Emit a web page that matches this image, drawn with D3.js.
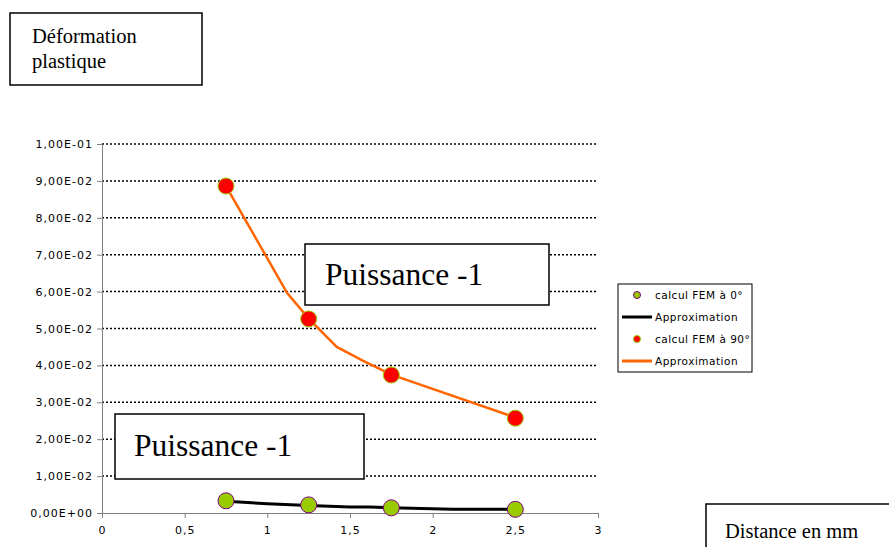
<!DOCTYPE html>
<html>
<head>
<meta charset="utf-8">
<script src="https://cdn.jsdelivr.net/npm/d3@7"></script>
<style>
  body { margin: 0; background: #fff; }
  .axis text { font-family: "Comic Sans MS", "DejaVu Sans", sans-serif; font-size: 11px; letter-spacing: 1px; fill: #000; }
  .axis path, .axis line { stroke: #808080; }
  .box { fill: #fff; stroke: #000; stroke-width: 1.5; }
  .serif { font-family: "Liberation Serif", "Times New Roman", serif; fill: #000; }
  .legend-text { font-family: "Comic Sans MS", "DejaVu Sans", sans-serif; font-size: 10.5px; letter-spacing: 0.5px; }
</style>
</head>
<body>
<div id="chart"></div>
<script>
// data
const xTicks = [0, 0.5, 1, 1.5, 2, 2.5, 3];
const xTickLabels = ["0", "0,5", "1", "1,5", "2", "2,5", "3"];
const yTicks = [0, 0.01, 0.02, 0.03, 0.04, 0.05, 0.06, 0.07, 0.08, 0.09, 0.1];
const yTickLabels = ["0,00E+00", "1,00E-02", "2,00E-02", "3,00E-02", "4,00E-02", "5,00E-02",
                     "6,00E-02", "7,00E-02", "8,00E-02", "9,00E-02", "1,00E-01"];

const distances = [0.75, 1.25, 1.75, 2.5];
const fem0 = [0.0033, 0.0022, 0.0014, 0.0010];
const fem90 = [0.0886, 0.0526, 0.0374, 0.0257];

// trendline vertices (as drawn)
const approx0X = [0.75, 1.0, 1.25, 1.5, 1.62, 1.75, 2.12, 2.5];
const approx0Y = [0.0032, 0.0025, 0.0020, 0.0016, 0.0016, 0.0014, 0.0010, 0.0010];
const approx90X = [0.75, 1.12, 1.25, 1.42, 1.58, 1.75, 2.5];
const approx90Y = [0.0886, 0.0596, 0.0527, 0.0450, 0.0412, 0.0375, 0.0259];

const legendLabels = ["calcul FEM à 0°", "Approximation", "calcul FEM à 90°", "Approximation"];

const W = 889, H = 547;
const svg = d3.select("#chart").append("svg")
    .attr("width", W)
    .attr("height", H);

const x = d3.scaleLinear().domain([0, 3]).range([102, 598]);
const y = d3.scaleLinear().domain([0, 0.1]).range([513, 144]);

// dotted gridlines
svg.append("g")
    .selectAll("line")
    .data(yTicks.slice(1))
    .join("line")
    .attr("x1", x(0))
    .attr("x2", x(3))
    .attr("y1", d => y(d))
    .attr("y2", d => y(d))
    .attr("stroke", "#000")
    .attr("stroke-width", 1.5)
    .attr("stroke-dasharray", "2,2");

// axes
const xAxis = d3.axisBottom(x)
    .tickValues(xTicks)
    .tickFormat((d, i) => xTickLabels[i])
    .tickSizeOuter(0)
    .tickSize(5)
    .tickPadding(8);
svg.append("g")
    .attr("class", "x-axis axis")
    .attr("transform", `translate(0,${y(0)})`)
    .call(xAxis);

const yAxis = d3.axisLeft(y)
    .tickValues(yTicks)
    .tickFormat((d, i) => yTickLabels[i])
    .tickSizeOuter(0)
    .tickSize(5)
    .tickPadding(4);
svg.append("g")
    .attr("class", "y-axis axis")
    .attr("transform", `translate(${x(0)},0)`)
    .call(yAxis);

// lines
const line = d3.line().x(d => x(d[0])).y(d => y(d[1]));

svg.append("path")
    .datum(approx90X.map((d, i) => [d, approx90Y[i]]))
    .attr("d", line)
    .attr("fill", "none")
    .attr("stroke", "#FF6600")
    .attr("stroke-width", 2.5);

svg.append("path")
    .datum(approx0X.map((d, i) => [d, approx0Y[i]]))
    .attr("d", line)
    .attr("fill", "none")
    .attr("stroke", "#000")
    .attr("stroke-width", 3);

// markers
svg.append("g")
    .selectAll("circle")
    .data(distances.map((d, i) => [d, fem90[i]]))
    .join("circle")
    .attr("cx", d => x(d[0]))
    .attr("cy", d => y(d[1]))
    .attr("r", 8)
    .attr("fill", "#FF0000")
    .attr("stroke", "#99CC00")
    .attr("stroke-width", 1);

svg.append("g")
    .selectAll("circle")
    .data(distances.map((d, i) => [d, fem0[i]]))
    .join("circle")
    .attr("cx", d => x(d[0]))
    .attr("cy", d => y(d[1]))
    .attr("r", 8)
    .attr("fill", "#99CC00")
    .attr("stroke", "#800080")
    .attr("stroke-width", 1);

// text boxes
function textBox(bx, by, bw, bh, lines, size, tx, ty, lh) {
    svg.append("rect").attr("class", "box")
        .attr("x", bx).attr("y", by).attr("width", bw).attr("height", bh);
    lines.forEach((t, i) => {
        svg.append("text").attr("class", "serif")
            .attr("x", tx).attr("y", ty + i * lh)
            .style("font-size", size + "px")
            .text(t);
    });
}

textBox(10, 13, 192, 72, ["Déformation", "plastique"], 20.5, 32, 43, 25);
textBox(305, 244, 244, 61, ["Puissance -1"], 31.5, 325, 285, 0);
textBox(115, 414, 249, 65, ["Puissance -1"], 31.5, 134, 456, 0);
textBox(706, 504, 200, 60, ["Distance en mm"], 20.5, 725, 538, 0);

// legend
const legend = svg.append("g");
legend.append("rect")
    .attr("x", 618).attr("y", 284).attr("width", 134).attr("height", 88)
    .attr("fill", "#fff").attr("stroke", "#000").attr("stroke-width", 1);

const rowsY = [295, 317, 339, 361];
const items = [
    {type: "dot", fill: "#99CC00", stroke: "#800080"},
    {type: "line", color: "#000"},
    {type: "dot", fill: "#FF0000", stroke: "#99CC00"},
    {type: "line", color: "#FF6600"}
];
items.forEach((it, i) => {
    if (it.type === "dot") {
        legend.append("circle")
            .attr("cx", 637).attr("cy", rowsY[i]).attr("r", 3.5)
            .attr("fill", it.fill).attr("stroke", it.stroke).attr("stroke-width", 1);
    } else {
        legend.append("line")
            .attr("x1", 622).attr("x2", 652)
            .attr("y1", rowsY[i]).attr("y2", rowsY[i])
            .attr("stroke", it.color).attr("stroke-width", 3);
    }
    legend.append("text")
        .attr("class", "legend-text")
        .attr("x", 655).attr("y", rowsY[i] + 4)
        .text(legendLabels[i]);
});
</script>
</body>
</html>
